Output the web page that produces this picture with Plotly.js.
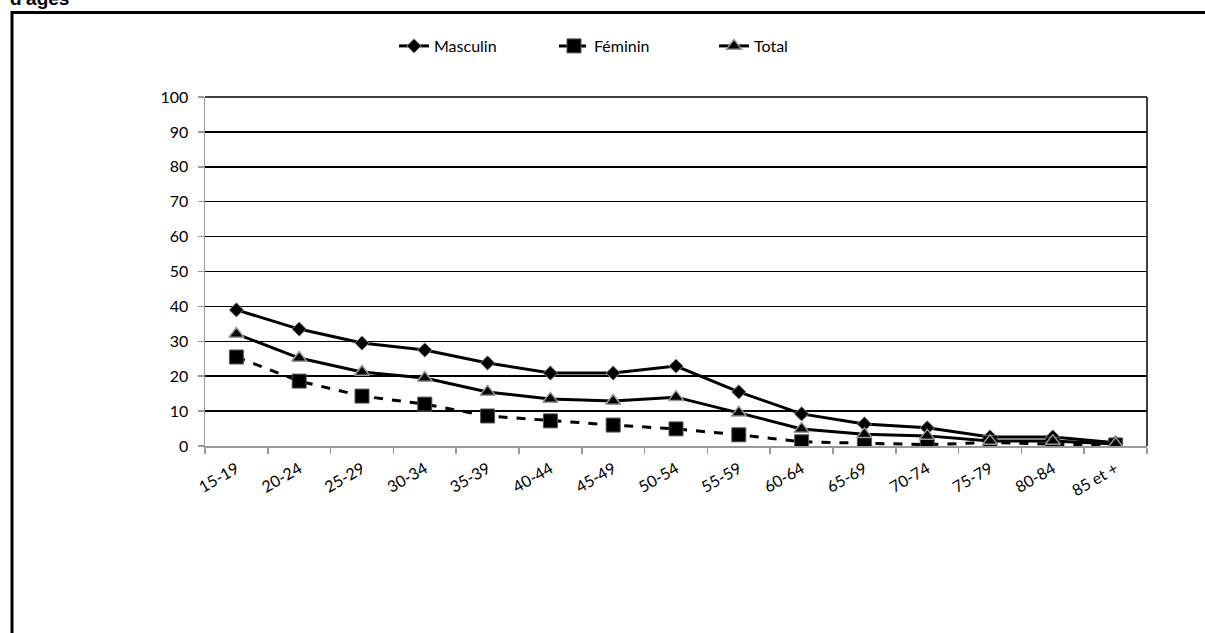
<!DOCTYPE html>
<html><head><meta charset="utf-8">
<script src="https://cdn.plot.ly/plotly-3.0.1.min.js"></script>
<style>body{margin:0;padding:0;background:#fff}#chart{width:1205px;height:633px}</style>
</head><body><div id="chart"></div>
<script>
const categories = ["15-19","20-24","25-29","30-34","35-39","40-44","45-49","50-54","55-59","60-64","65-69","70-74","75-79","80-84","85 et +"];
const masculin = [39.0,33.5,29.5,27.5,23.8,20.9,20.9,22.9,15.5,9.2,6.3,5.2,2.6,2.6,0.9];
const feminin  = [25.5,18.6,14.3,12.0,8.6,7.2,6.0,4.9,3.2,1.2,0.9,0.4,1.0,0.5,0.3];
const total    = [32.1,25.2,21.2,19.5,15.5,13.5,12.9,14.0,9.5,4.9,3.4,2.9,1.4,1.4,0.6];
const yTicks = [0,10,20,30,40,50,60,70,80,90,100];
const titleText = "d'âges";

const W=1205,H=633,L=205,R=58,T=97,B=187;
const pw=W-L-R, ph=H-T-B;
const px=x=>(x-L)/pw, py=y=>(H-B-y)/ph;

const traces = [
 {x:categories,y:masculin,name:"Masculin",type:"scatter",mode:"lines+markers",
  line:{color:"#000",width:3},marker:{symbol:"diamond",size:11,color:"#000",line:{color:"#888",width:1}}},
 {x:categories,y:feminin,name:"Féminin",type:"scatter",mode:"lines+markers",
  line:{color:"#000",width:3,dash:"dash"},marker:{symbol:"square",size:14,color:"#000",line:{color:"#555",width:1}}},
 {x:categories,y:total,name:"Total",type:"scatter",mode:"lines+markers",
  line:{color:"#000",width:3},marker:{symbol:"triangle-up",size:13,color:"#000",line:{color:"#999",width:1.5}}}
];
const layout = {
 width:W,height:H,margin:{l:L,r:R,t:T,b:B},
 paper_bgcolor:"#fff",plot_bgcolor:"#fff",showlegend:true,
 font:{family:"Lato, 'Open Sans', sans-serif",size:15,color:"#000"},
 legend:{orientation:"h",x:px(394),xanchor:"left",y:py(46),yanchor:"middle",font:{size:16},traceorder:"normal",entrywidth:115,entrywidthmode:"pixels"},
 xaxis:{type:"category",categoryorder:"array",categoryarray:categories,range:[-0.5,14.5],
  tickson:"boundaries",ticks:"outside",ticklen:6,tickcolor:"#999",tickwidth:1.5,
  showline:true,linecolor:"#999",linewidth:1.5,showgrid:false,zeroline:false,tickangle:-30,
  tickfont:{size:16},ticklabelstandoff:6},
 yaxis:{range:[0,100],tickvals:yTicks,ticks:"outside",ticklen:6,tickcolor:"#999",tickwidth:1.5,
  showline:true,linecolor:"#999",linewidth:1.5,showgrid:true,gridcolor:"#000",gridwidth:1.5,zeroline:false,
  tickfont:{size:16},ticklabelstandoff:6},
 shapes:[
  {type:"line",xref:"paper",yref:"paper",x0:1,x1:1,y0:0,y1:1,line:{color:"#000",width:1.5}},
  {type:"line",xref:"paper",yref:"paper",x0:0,x1:1,y0:1,y1:1,line:{color:"#000",width:1.5}},
  {type:"line",xref:"paper",yref:"paper",x0:px(11),x1:px(1210),y0:py(12.5),y1:py(12.5),line:{color:"#000",width:3}},
  {type:"line",xref:"paper",yref:"paper",x0:px(12),x1:px(12),y0:py(11),y1:py(640),line:{color:"#000",width:3}}
 ],
 annotations:[{text:"<b>"+titleText+"</b>",xref:"paper",yref:"paper",x:px(8),xanchor:"left",y:py(11),yanchor:"bottom",
  showarrow:false,font:{family:"Liberation Sans, Arial, sans-serif",size:19,color:"#000"}}]
};
Plotly.newPlot("chart",traces,layout,{displayModeBar:false,staticPlot:true});
</script></body></html>
